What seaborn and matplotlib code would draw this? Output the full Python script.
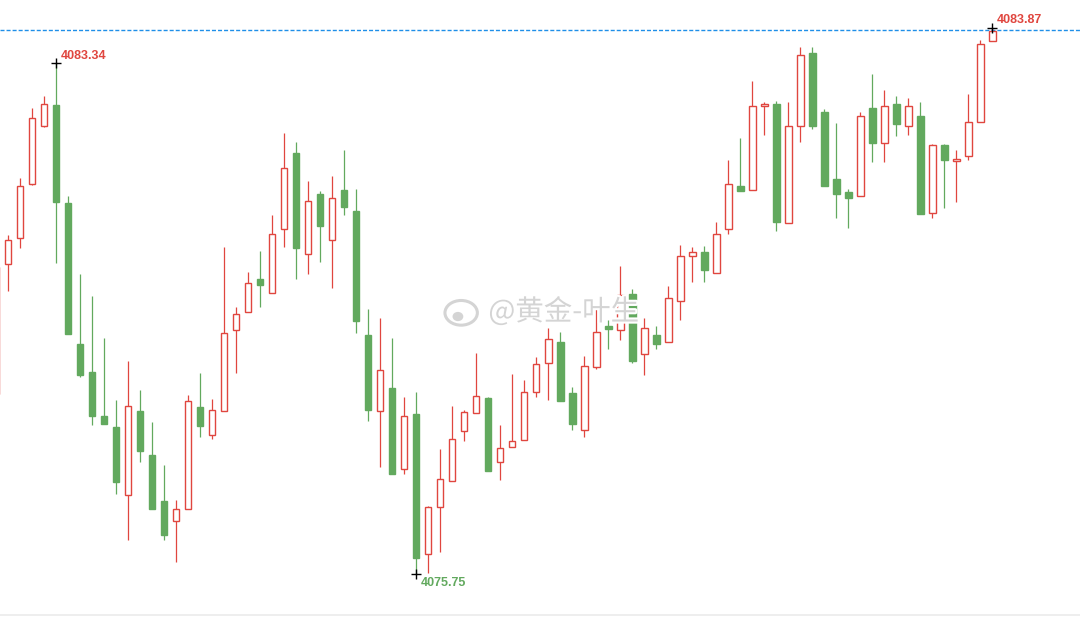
import numpy as np
import pandas as pd
import matplotlib
matplotlib.use("Agg")
import matplotlib.pyplot as plt
import matplotlib.patheffects as pe
from matplotlib.patches import Ellipse
import seaborn as sns

#------------------------------ Datos (velas) ------------------------------#
aperturas = [4078.42, 4080.35, 4080.75, 4081.54, 4082.41, 4082.72, 4081.26, 4079.17, 4078.75, 4078.10,
             4077.93, 4076.93, 4078.17, 4077.52, 4076.83, 4076.53, 4076.71, 4078.23, 4077.81, 4078.17,
             4079.37, 4079.64, 4080.14, 4079.92, 4080.87, 4082.00, 4080.51, 4081.39, 4080.71, 4081.45,
             4081.14, 4079.30, 4078.17, 4078.51, 4077.31, 4078.13, 4076.04, 4076.74, 4077.13, 4077.87,
             4078.14, 4078.36, 4077.41, 4077.63, 4077.74, 4078.45, 4078.88, 4079.20, 4078.44, 4077.89,
             4078.82, 4079.43, 4079.37, 4079.91, 4079.02, 4079.30, 4079.19, 4079.80, 4080.47, 4080.54,
             4080.23, 4080.87, 4081.51, 4081.46, 4082.71, 4082.73, 4080.97, 4082.40, 4083.49, 4082.61,
             4081.62, 4081.42, 4081.36, 4082.67, 4082.15, 4082.74, 4082.40, 4082.55, 4081.12, 4082.12,
             4081.89, 4081.96, 4082.46, 4083.67]
maximos = [4080.31, 4080.79, 4081.63, 4082.67, 4082.85, 4083.34, 4081.37, 4080.21, 4079.88, 4079.26,
           4078.34, 4078.91, 4078.48, 4078.01, 4077.37, 4076.85, 4078.41, 4078.74, 4078.35, 4080.61,
           4079.72, 4080.24, 4080.55, 4081.08, 4082.30, 4082.17, 4081.59, 4081.44, 4081.66, 4082.05,
           4081.47, 4079.69, 4079.55, 4079.26, 4078.38, 4078.45, 4076.76, 4077.61, 4078.25, 4078.19,
           4079.03, 4078.38, 4077.96, 4078.72, 4078.63, 4078.97, 4079.40, 4079.35, 4078.53, 4078.99,
           4079.70, 4079.52, 4080.33, 4079.99, 4079.55, 4079.43, 4080.03, 4080.64, 4080.61, 4080.62,
           4080.98, 4081.90, 4082.23, 4083.07, 4082.76, 4082.78, 4082.76, 4083.58, 4083.58, 4082.66,
           4082.45, 4081.47, 4082.62, 4083.18, 4082.94, 4082.85, 4082.82, 4082.76, 4082.14, 4082.14,
           4082.05, 4082.89, 4083.69, 4083.87]
minimos = [4078.42, 4079.96, 4080.60, 4081.53, 4082.39, 4080.37, 4079.32, 4078.68, 4077.97, 4077.98,
           4076.94, 4076.25, 4077.42, 4076.72, 4076.26, 4075.93, 4076.71, 4077.79, 4077.76, 4078.17,
           4078.74, 4079.64, 4079.72, 4079.92, 4080.61, 4080.14, 4080.21, 4080.39, 4080.00, 4081.09,
           4079.33, 4078.03, 4077.34, 4077.24, 4077.23, 4075.75, 4075.77, 4076.07, 4077.13, 4077.72,
           4078.14, 4077.28, 4077.15, 4077.63, 4077.74, 4078.38, 4078.34, 4078.32, 4077.89, 4077.79,
           4078.80, 4079.09, 4079.23, 4078.89, 4078.71, 4079.10, 4079.19, 4079.53, 4080.09, 4080.09,
           4080.23, 4080.80, 4081.44, 4081.46, 4082.28, 4080.85, 4080.97, 4082.17, 4082.36, 4081.52,
           4081.04, 4080.89, 4081.36, 4081.87, 4081.87, 4082.26, 4082.28, 4081.10, 4081.04, 4081.19,
           4081.28, 4081.90, 4082.46, 4083.67]
cierres = [4080.31, 4080.71, 4081.51, 4082.53, 4082.73, 4081.28, 4079.32, 4078.71, 4078.09, 4077.98,
           4077.12, 4078.24, 4077.57, 4076.72, 4076.33, 4076.71, 4078.32, 4077.95, 4078.18, 4079.33,
           4079.61, 4080.07, 4080.05, 4080.80, 4081.79, 4080.60, 4081.29, 4080.92, 4081.33, 4081.21,
           4079.51, 4078.19, 4078.78, 4077.24, 4078.09, 4075.98, 4076.74, 4077.16, 4077.75, 4078.15,
           4078.40, 4077.28, 4077.62, 4077.73, 4078.45, 4078.87, 4079.24, 4078.32, 4077.98, 4078.84,
           4079.34, 4079.39, 4079.89, 4078.92, 4079.40, 4079.17, 4079.85, 4080.47, 4080.53, 4080.26,
           4080.80, 4081.54, 4081.44, 4082.70, 4082.73, 4080.98, 4082.40, 4083.47, 4082.41, 4081.52,
           4081.40, 4081.34, 4082.56, 4082.16, 4082.70, 4082.44, 4082.71, 4081.10, 4082.12, 4081.90,
           4081.91, 4082.46, 4083.63, 4083.82]

# Puntos marcados (máximo, mínimo y último máximo)
marcas_idx = [5, 35, 83]
marcas_precio = [4083.34, 4075.75, 4083.87]
marcas_texto = ["4083.34", "4075.75", "4083.87"]

df = pd.DataFrame({"open": aperturas, "high": maximos, "low": minimos, "close": cierres})
df["idx"] = np.arange(len(df))
df["sube"] = df["close"] >= df["open"]

#------------------------------ Estilo ------------------------------#
sns.set_theme(style="white")
plt.rcParams["font.family"] = ["Liberation Sans", "Noto Sans CJK SC", "DejaVu Sans"]

rojo = "#e0463f"
verde = "#62a95e"
colores = np.where(df["sube"], rojo, verde)
rellenos = np.where(df["sube"], "white", verde)

fig = plt.figure(figsize=(10.8, 6.17), dpi=100)
ax = fig.add_axes([0, 0, 1, 1])

#------------------------------ Velas ------------------------------#
ax.vlines(df["idx"], df["low"], df["high"], colors=colores, linewidth=0.9, zorder=1)
altura = (df["close"] - df["open"]).abs().clip(lower=0.015)
base = df[["open", "close"]].min(axis=1)
ax.bar(df["idx"], altura, bottom=base, width=0.58, color=rellenos,
       edgecolor=colores, linewidth=1.0, zorder=2)

# Línea del máximo
ax.axhline(4083.84, color="#1f8fe8", linewidth=1.0,
           linestyle=(0, (2.9, 1.45)), zorder=0)
# Línea base
ax.axhline(4075.14, color="#ebebeb", linewidth=1.2, zorder=0)

# Cruces y etiquetas
sns.scatterplot(x=marcas_idx, y=marcas_precio, marker="+", color="black", s=45,
                linewidth=1.0, ax=ax, zorder=5, legend=False)
offsets = [(3.6, 5.0), (3.6, -6.5), (3.6, 5.8)]
col_txt = [rojo, verde, rojo]
for i, p, t, off, c in zip(marcas_idx, marcas_precio, marcas_texto, offsets, col_txt):
    ax.annotate(t, xy=(i, p), xytext=off, textcoords="offset points", color=c,
                fontweight="bold", fontsize=9, ha="left", va="center", zorder=6)

#------------------------------ Marca de agua ------------------------------#
halo = [pe.withStroke(linewidth=3, foreground="white")]
ax.text(0.522, 0.494, "@黄金-叶生", transform=ax.transAxes, fontsize=20.5,
        family=["Noto Sans CJK SC", "DejaVu Sans"], color="#d4d4d4",
        ha="center", va="center", zorder=10, path_effects=halo)
# logo aproximado
logo = Ellipse((0.427, 0.493), 0.030, 0.040, transform=ax.transAxes, facecolor="none",
               edgecolor="#d4d4d4", linewidth=2.2, zorder=10, path_effects=halo)
ax.add_patch(logo)
ojo = Ellipse((0.424, 0.487), 0.010, 0.015, transform=ax.transAxes, facecolor="#d4d4d4",
              edgecolor="none", zorder=10)
ax.add_patch(ojo)

ax.set_xlim(1 / 3, 90.33)
ax.set_ylim(4075.11, 4084.28)
ax.set_axis_off()

plt.savefig("out.png", dpi=100)
